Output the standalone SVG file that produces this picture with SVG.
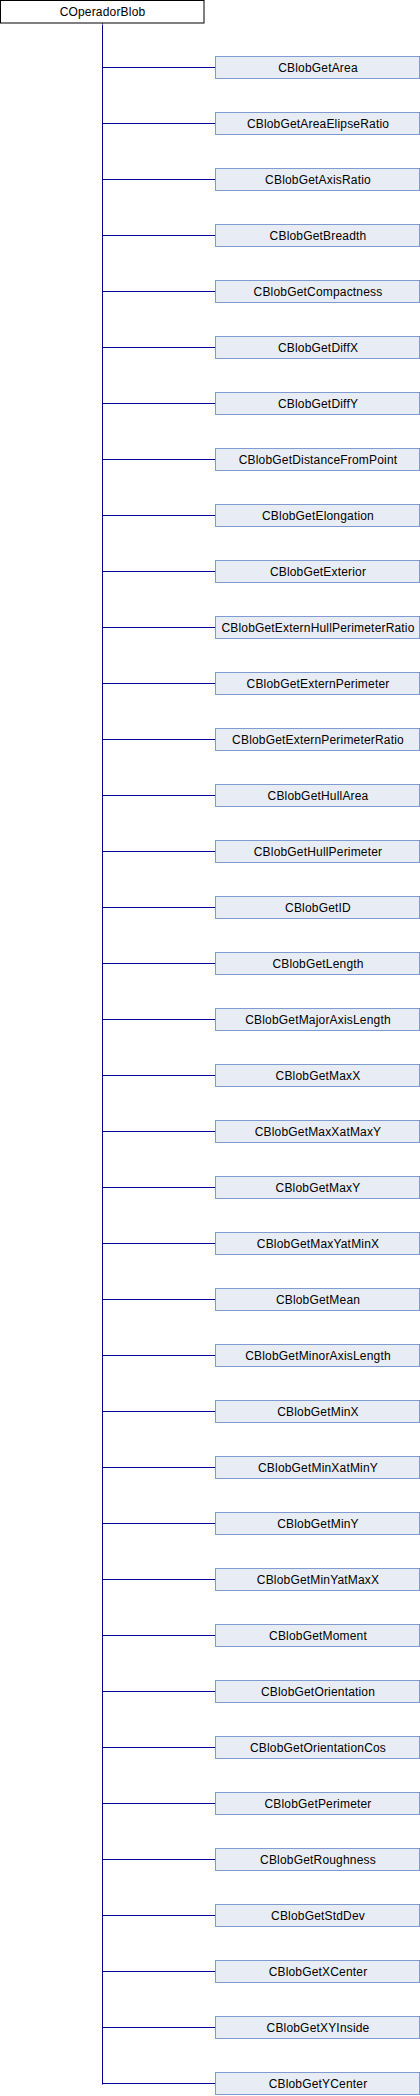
<svg xmlns="http://www.w3.org/2000/svg" width="420" height="2096" viewBox="0 0 420 2096">
<style>
.n rect{fill:#e8ecf5;stroke:#7f9bd0;stroke-width:1}
.r rect{fill:#ffffff;stroke:#000000;stroke-width:1}
text{font-family:"Liberation Sans",Arial,sans-serif;font-size:12px;letter-spacing:0.18px;fill:#000;text-anchor:middle}
.e{stroke:#000099;stroke-width:1;fill:none}
</style>
<defs>
<marker id="ah" markerWidth="8" markerHeight="8" refX="0" refY="4" orient="auto" markerUnits="userSpaceOnUse">
<path d="M0,4 L7,1.5 L7,6.5 Z" fill="#000099"/>
</marker>
</defs>
<g id="connectors">
<path class="e" d="M102.5,2084.5 V24.5" marker-end="url(#ah)"/>
<path class="e" d="M102.5,67.5 H215 M102.5,123.5 H215 M102.5,179.5 H215 M102.5,235.5 H215 M102.5,291.5 H215 M102.5,347.5 H215 M102.5,403.5 H215 M102.5,459.5 H215 M102.5,515.5 H215 M102.5,571.5 H215 M102.5,627.5 H215 M102.5,683.5 H215 M102.5,739.5 H215 M102.5,795.5 H215 M102.5,851.5 H215 M102.5,907.5 H215 M102.5,963.5 H215 M102.5,1019.5 H215 M102.5,1075.5 H215 M102.5,1131.5 H215 M102.5,1187.5 H215 M102.5,1243.5 H215 M102.5,1299.5 H215 M102.5,1355.5 H215 M102.5,1411.5 H215 M102.5,1467.5 H215 M102.5,1523.5 H215 M102.5,1579.5 H215 M102.5,1635.5 H215 M102.5,1691.5 H215 M102.5,1747.5 H215 M102.5,1803.5 H215 M102.5,1859.5 H215 M102.5,1915.5 H215 M102.5,1971.5 H215 M102.5,2027.5 H215 M102.5,2083.5 H215"/>
</g>
<g id="COperadorBlob" class="r"><rect x="0.5" y="0.5" width="203.5" height="22.5"/><text x="102.5" y="16">COperadorBlob</text></g>
<g id="CBlobGetArea" class="n"><rect x="215.5" y="56.5" width="204" height="22"/><text x="318" y="71.5">CBlobGetArea</text></g>
<g id="CBlobGetAreaElipseRatio" class="n"><rect x="215.5" y="112.5" width="204" height="22"/><text x="318" y="127.5">CBlobGetAreaElipseRatio</text></g>
<g id="CBlobGetAxisRatio" class="n"><rect x="215.5" y="168.5" width="204" height="22"/><text x="318" y="183.5">CBlobGetAxisRatio</text></g>
<g id="CBlobGetBreadth" class="n"><rect x="215.5" y="224.5" width="204" height="22"/><text x="318" y="239.5">CBlobGetBreadth</text></g>
<g id="CBlobGetCompactness" class="n"><rect x="215.5" y="280.5" width="204" height="22"/><text x="318" y="295.5">CBlobGetCompactness</text></g>
<g id="CBlobGetDiffX" class="n"><rect x="215.5" y="336.5" width="204" height="22"/><text x="318" y="351.5">CBlobGetDiffX</text></g>
<g id="CBlobGetDiffY" class="n"><rect x="215.5" y="392.5" width="204" height="22"/><text x="318" y="407.5">CBlobGetDiffY</text></g>
<g id="CBlobGetDistanceFromPoint" class="n"><rect x="215.5" y="448.5" width="204" height="22"/><text x="318" y="463.5">CBlobGetDistanceFromPoint</text></g>
<g id="CBlobGetElongation" class="n"><rect x="215.5" y="504.5" width="204" height="22"/><text x="318" y="519.5">CBlobGetElongation</text></g>
<g id="CBlobGetExterior" class="n"><rect x="215.5" y="560.5" width="204" height="22"/><text x="318" y="575.5">CBlobGetExterior</text></g>
<g id="CBlobGetExternHullPerimeterRatio" class="n"><rect x="215.5" y="616.5" width="204" height="22"/><text x="318" y="631.5">CBlobGetExternHullPerimeterRatio</text></g>
<g id="CBlobGetExternPerimeter" class="n"><rect x="215.5" y="672.5" width="204" height="22"/><text x="318" y="687.5">CBlobGetExternPerimeter</text></g>
<g id="CBlobGetExternPerimeterRatio" class="n"><rect x="215.5" y="728.5" width="204" height="22"/><text x="318" y="743.5">CBlobGetExternPerimeterRatio</text></g>
<g id="CBlobGetHullArea" class="n"><rect x="215.5" y="784.5" width="204" height="22"/><text x="318" y="799.5">CBlobGetHullArea</text></g>
<g id="CBlobGetHullPerimeter" class="n"><rect x="215.5" y="840.5" width="204" height="22"/><text x="318" y="855.5">CBlobGetHullPerimeter</text></g>
<g id="CBlobGetID" class="n"><rect x="215.5" y="896.5" width="204" height="22"/><text x="318" y="911.5">CBlobGetID</text></g>
<g id="CBlobGetLength" class="n"><rect x="215.5" y="952.5" width="204" height="22"/><text x="318" y="967.5">CBlobGetLength</text></g>
<g id="CBlobGetMajorAxisLength" class="n"><rect x="215.5" y="1008.5" width="204" height="22"/><text x="318" y="1023.5">CBlobGetMajorAxisLength</text></g>
<g id="CBlobGetMaxX" class="n"><rect x="215.5" y="1064.5" width="204" height="22"/><text x="318" y="1079.5">CBlobGetMaxX</text></g>
<g id="CBlobGetMaxXatMaxY" class="n"><rect x="215.5" y="1120.5" width="204" height="22"/><text x="318" y="1135.5">CBlobGetMaxXatMaxY</text></g>
<g id="CBlobGetMaxY" class="n"><rect x="215.5" y="1176.5" width="204" height="22"/><text x="318" y="1191.5">CBlobGetMaxY</text></g>
<g id="CBlobGetMaxYatMinX" class="n"><rect x="215.5" y="1232.5" width="204" height="22"/><text x="318" y="1247.5">CBlobGetMaxYatMinX</text></g>
<g id="CBlobGetMean" class="n"><rect x="215.5" y="1288.5" width="204" height="22"/><text x="318" y="1303.5">CBlobGetMean</text></g>
<g id="CBlobGetMinorAxisLength" class="n"><rect x="215.5" y="1344.5" width="204" height="22"/><text x="318" y="1359.5">CBlobGetMinorAxisLength</text></g>
<g id="CBlobGetMinX" class="n"><rect x="215.5" y="1400.5" width="204" height="22"/><text x="318" y="1415.5">CBlobGetMinX</text></g>
<g id="CBlobGetMinXatMinY" class="n"><rect x="215.5" y="1456.5" width="204" height="22"/><text x="318" y="1471.5">CBlobGetMinXatMinY</text></g>
<g id="CBlobGetMinY" class="n"><rect x="215.5" y="1512.5" width="204" height="22"/><text x="318" y="1527.5">CBlobGetMinY</text></g>
<g id="CBlobGetMinYatMaxX" class="n"><rect x="215.5" y="1568.5" width="204" height="22"/><text x="318" y="1583.5">CBlobGetMinYatMaxX</text></g>
<g id="CBlobGetMoment" class="n"><rect x="215.5" y="1624.5" width="204" height="22"/><text x="318" y="1639.5">CBlobGetMoment</text></g>
<g id="CBlobGetOrientation" class="n"><rect x="215.5" y="1680.5" width="204" height="22"/><text x="318" y="1695.5">CBlobGetOrientation</text></g>
<g id="CBlobGetOrientationCos" class="n"><rect x="215.5" y="1736.5" width="204" height="22"/><text x="318" y="1751.5">CBlobGetOrientationCos</text></g>
<g id="CBlobGetPerimeter" class="n"><rect x="215.5" y="1792.5" width="204" height="22"/><text x="318" y="1807.5">CBlobGetPerimeter</text></g>
<g id="CBlobGetRoughness" class="n"><rect x="215.5" y="1848.5" width="204" height="22"/><text x="318" y="1863.5">CBlobGetRoughness</text></g>
<g id="CBlobGetStdDev" class="n"><rect x="215.5" y="1904.5" width="204" height="22"/><text x="318" y="1919.5">CBlobGetStdDev</text></g>
<g id="CBlobGetXCenter" class="n"><rect x="215.5" y="1960.5" width="204" height="22"/><text x="318" y="1975.5">CBlobGetXCenter</text></g>
<g id="CBlobGetXYInside" class="n"><rect x="215.5" y="2016.5" width="204" height="22"/><text x="318" y="2031.5">CBlobGetXYInside</text></g>
<g id="CBlobGetYCenter" class="n"><rect x="215.5" y="2072.5" width="204" height="22"/><text x="318" y="2087.5">CBlobGetYCenter</text></g>
</svg>
